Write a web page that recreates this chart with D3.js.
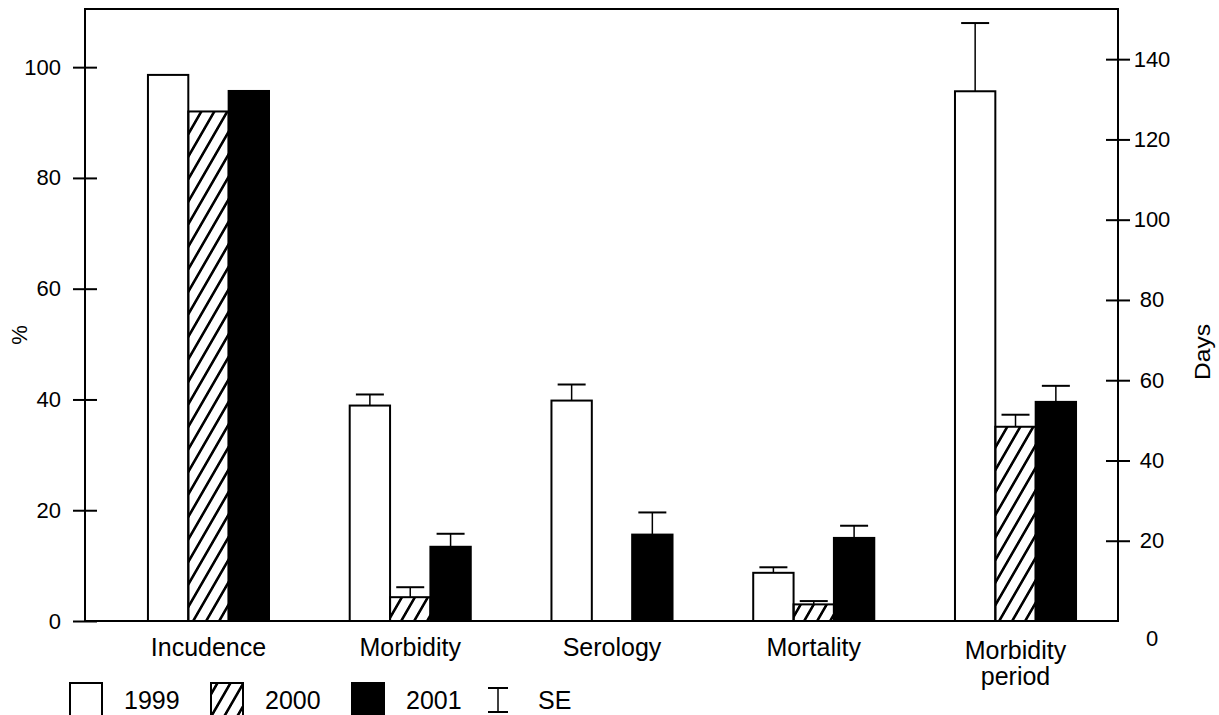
<!DOCTYPE html>
<html>
<head>
<meta charset="utf-8">
<script src="https://cdn.jsdelivr.net/npm/d3@7"></script>
<style>
    body { margin: 0; background: #fff; }
    text { font-family: "Liberation Sans", Arial, sans-serif; fill: #000; }
</style>
</head>
<body>
<div id="chart-area"></div>
<script>
/*
 *    bars with SE, two value axes
 */

const categories = ["Incudence", "Morbidity", "Serology", "Mortality", "Morbidity period"];
const years = ["1999", "2000", "2001"];
// Morbidity period is measured in days (right axis), the rest in %
const categoryAxis = ["pct", "pct", "pct", "pct", "days"];
const values1999 = [98.6, 38.9, 39.8, 8.7, 132];
const values2000 = [92.0, 4.3, null, 3.0, 48.4];
const values2001 = [95.7, 13.4, 15.6, 15.0, 54.6];
const se1999 = [null, 2.0, 2.9, 1.0, 17];
const se2000 = [null, 1.8, null, 0.6, 3];
const se2001 = [null, 2.35, 4.0, 2.2, 4];
const pctTicks = [0, 20, 40, 60, 80, 100];
const dayTicks = [0, 20, 40, 60, 80, 100, 120, 140];

const width = 1219;
const height = 715;
const margin = { top: 9, right: 101, bottom: 94, left: 85 };
const innerW = width - margin.left - margin.right;
const innerH = height - margin.top - margin.bottom;

const fills = ["#fff", "url(#hatch)", "#000"];

const svg = d3.select("#chart-area")
    .append("svg")
    .attr("width", width)
    .attr("height", height);

svg.append("defs").append("pattern")
    .attr("id", "hatch")
    .attr("patternUnits", "userSpaceOnUse")
    .attr("width", 13)
    .attr("height", 13)
    .attr("patternTransform", "skewX(-30)")
    .append("line")
    .attr("x1", 6.5).attr("y1", -2)
    .attr("x2", 6.5).attr("y2", 15)
    .attr("stroke", "#000")
    .attr("stroke-width", 3);

const g = svg.append("g")
    .attr("transform", "translate(" + margin.left + ", " + margin.top + ")");

const x0 = d3.scaleBand().domain(categories).range([0, innerW])
    .paddingInner(0.4).paddingOuter(0.26).align(0.6);
const x1 = d3.scaleBand().domain(years).range([0, x0.bandwidth()]);
const yPct = d3.scaleLinear().domain([0, 110.5]).range([innerH, 0]);
const yDays = d3.scaleLinear().domain([0, 152.5]).range([innerH, 0]);

const valueRows = [values1999, values2000, values2001];
const seRows = [se1999, se2000, se2001];
var data = [];
categories.forEach((c, i) => {
    years.forEach((yr, j) => {
        if (valueRows[j][i] == null) return;
        data.push({
            cat: c,
            year: yr,
            idx: j,
            value: valueRows[j][i],
            se: seRows[j][i],
            y: categoryAxis[i] == "days" ? yDays : yPct
        });
    });
});

/** Bars */
g.selectAll("rect.bar").data(data).enter()
    .append("rect")
    .attr("class", "bar")
    .attr("x", (d) => x0(d.cat) + x1(d.year))
    .attr("y", (d) => d.y(d.value))
    .attr("width", x1.bandwidth())
    .attr("height", (d) => innerH - d.y(d.value))
    .attr("fill", (d) => fills[d.idx])
    .attr("stroke", "#000")
    .attr("stroke-width", 2);

/** Error bars */
const withSe = data.filter((d) => d.se != null);
const cx = (d) => x0(d.cat) + x1(d.year) + x1.bandwidth() / 2;
g.selectAll("line.err").data(withSe).enter()
    .append("line")
    .attr("class", "err")
    .attr("x1", cx).attr("x2", cx)
    .attr("y1", (d) => d.y(d.value))
    .attr("y2", (d) => d.y(d.value + d.se))
    .attr("stroke", "#000")
    .attr("stroke-width", 1.5);
g.selectAll("line.cap").data(withSe).enter()
    .append("line")
    .attr("class", "cap")
    .attr("x1", (d) => cx(d) - 14).attr("x2", (d) => cx(d) + 14)
    .attr("y1", (d) => d.y(d.value + d.se))
    .attr("y2", (d) => d.y(d.value + d.se))
    .attr("stroke", "#000")
    .attr("stroke-width", 2);

/** Frame */
g.append("rect")
    .attr("x", 0).attr("y", 0)
    .attr("width", innerW).attr("height", innerH)
    .attr("fill", "none")
    .attr("stroke", "#000")
    .attr("stroke-width", 2);

/** Axes */
const leftAxis = d3.axisLeft(yPct).tickValues(pctTicks).tickSize(12).tickPadding(12);
g.append("g")
    .attr("class", "left axis")
    .call(leftAxis)
    .attr("font-family", null).attr("font-size", null)
    .call((a) => a.select(".domain").remove())
    .call((a) => a.selectAll(".tick line").attr("x1", 12).attr("stroke-width", 2))
    .call((a) => a.selectAll(".tick text").attr("font-size", "22px"));

const rightAxis = d3.axisRight(yDays).tickValues(dayTicks).tickSize(12);
g.append("g")
    .attr("class", "right axis")
    .attr("transform", "translate(" + innerW + ", 0)")
    .call(rightAxis)
    .attr("font-family", null).attr("font-size", null)
    .call((a) => a.select(".domain").remove())
    .call((a) => a.selectAll(".tick line").attr("x1", -12).attr("stroke-width", 2)
        .filter((d) => d == 0).remove())
    .call((a) => a.selectAll(".tick text")
        .attr("font-size", "22px")
        .attr("text-anchor", "middle")
        .attr("x", 34)
        .filter((d) => d == 0).attr("dy", "1.1em"));

/** Category labels */
const catLabel = g.selectAll("text.cat").data(categories).enter()
    .append("text")
    .attr("class", "cat")
    .attr("font-size", "25px")
    .attr("text-anchor", "middle")
    .attr("x", (d) => x0(d) + x0.bandwidth() / 2)
    .attr("y", (d) => d.includes(" ") ? innerH + 38 : innerH + 35);
catLabel.selectAll("tspan")
    .data((d) => d.split(" ").map((w) => ({ w: w, x: x0(d) + x0.bandwidth() / 2 })))
    .enter()
    .append("tspan")
    .attr("x", (t) => t.x)
    .attr("dy", (t, i) => i == 0 ? 0 : 26)
    .text((t) => t.w);

/** Axis titles */
svg.append("text")
    .attr("transform", "translate(27, 335) rotate(-90)")
    .attr("text-anchor", "middle")
    .attr("font-size", "22px")
    .text("%");

svg.append("text")
    .attr("transform", "translate(1210, 352) rotate(-90)")
    .attr("text-anchor", "middle")
    .attr("font-size", "22px")
    .attr("textLength", 56)
    .attr("lengthAdjust", "spacingAndGlyphs")
    .text("Days");

/** Legend */
const legend = svg.append("g").attr("class", "legend");
const item = legend.selectAll("g").data(years).enter()
    .append("g")
    .attr("transform", (d, i) => "translate(" + (70 + i * 141) + ", 683)");
item.append("rect")
    .attr("width", 32).attr("height", 40)
    .attr("fill", (d, i) => fills[i])
    .attr("stroke", "#000")
    .attr("stroke-width", 2);
item.append("text")
    .attr("x", 54).attr("y", 26)
    .attr("font-size", "25px")
    .text((d) => d);

const seItem = legend.append("g").attr("transform", "translate(498, 688)");
seItem.append("line").attr("x1", -10).attr("x2", 10).attr("y1", 0).attr("y2", 0)
    .attr("stroke", "#000").attr("stroke-width", 2);
seItem.append("line").attr("x1", 0).attr("x2", 0).attr("y1", 0).attr("y2", 24)
    .attr("stroke", "#000").attr("stroke-width", 1.5);
seItem.append("line").attr("x1", -10).attr("x2", 10).attr("y1", 24).attr("y2", 24)
    .attr("stroke", "#000").attr("stroke-width", 2);
seItem.append("text")
    .attr("x", 40).attr("y", 21)
    .attr("font-size", "25px")
    .text("SE");
</script>
</body>
</html>
